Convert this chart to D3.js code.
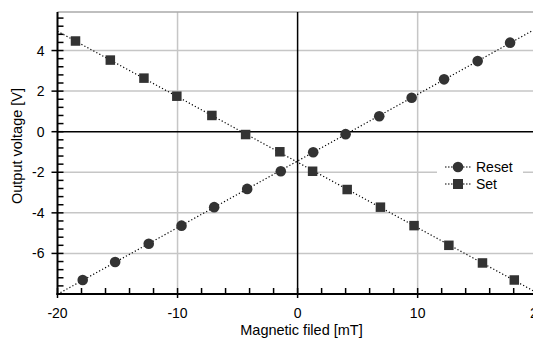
<!DOCTYPE html>
<html>
<head>
<meta charset="utf-8">
<script src="https://cdn.jsdelivr.net/npm/d3@7"></script>
<style>
  body { margin: 0; background: #fff; }
  text { font-family: "Liberation Sans", Arial, sans-serif; fill: #000; }
</style>
</head>
<body>
<script>
// data
const resetField = [-17.9, -15.2, -12.4, -9.67, -6.95, -4.2, -1.4, 1.3, 4.0, 6.8, 9.5, 12.2, 15.0, 17.7];
const resetVolt  = [-7.31, -6.42, -5.52, -4.63, -3.72, -2.82, -1.95, -1.01, -0.12, 0.76, 1.67, 2.58, 3.48, 4.39];
const setField = [-18.5, -15.6, -12.8, -10.06, -7.14, -4.33, -1.48, 1.25, 4.13, 6.9, 9.7, 12.6, 15.4, 18.05];
const setVolt  = [4.47, 3.53, 2.64, 1.75, 0.80, -0.14, -0.99, -1.95, -2.85, -3.72, -4.63, -5.6, -6.47, -7.31];
const xTicks = [-20, -10, 0, 10, 20];
const yTicks = [-6, -4, -2, 0, 2, 4];
const seriesNames = ["Reset", "Set"];

(function() {
  const width = 533, height = 338;
  const svg = d3.select('body').append('svg')
    .attr('width', width)
    .attr('height', height);

  const xScale = d3.scaleLinear().domain([-20, 20]).range([57.5, 537.7]);
  const yScale = d3.scaleLinear().domain([-8, 5.9]).range([294, 12]);
  const left = xScale(-20), top = yScale(5.9), bottom = yScale(-8);

  svg.append('clipPath').attr('id', 'plot')
    .append('rect')
      .attr('x', left).attr('y', top)
      .attr('width', xScale(20) - left).attr('height', bottom - top);

  // grid
  const grid = svg.append('g');
  grid.selectAll('.vg')
    .data(xTicks.filter(d => d !== 0 && d !== -20))
    .enter().append('line')
      .attr('x1', d => xScale(d)).attr('x2', d => xScale(d))
      .attr('y1', top).attr('y2', bottom)
      .attr('stroke', '#c6c6c6').attr('stroke-width', 1.5);
  grid.selectAll('.hg')
    .data(yTicks.filter(d => d !== 0))
    .enter().append('line')
      .attr('x1', left).attr('x2', width)
      .attr('y1', d => yScale(d)).attr('y2', d => yScale(d))
      .attr('stroke', '#c6c6c6').attr('stroke-width', 1.5);
  // top frame
  grid.append('line')
    .attr('x1', left).attr('x2', width)
    .attr('y1', top).attr('y2', top)
    .attr('stroke', '#aaa').attr('stroke-width', 1.5);

  // zero lines
  svg.append('line')
    .attr('x1', xScale(0)).attr('x2', xScale(0))
    .attr('y1', top).attr('y2', bottom)
    .attr('stroke', '#000').attr('stroke-width', 1.5);
  svg.append('line')
    .attr('x1', left).attr('x2', width)
    .attr('y1', yScale(0)).attr('y2', yScale(0))
    .attr('stroke', '#000').attr('stroke-width', 1.5);

  // legend box (drawn before lines, covers grid)
  const legend = svg.append('g').attr('transform', 'translate(437, 157)');
  legend.append('rect')
    .attr('x', 0).attr('y', 0).attr('width', 86).attr('height', 36)
    .attr('fill', '#fff');

  // least squares fit lines
  function fit(xs, ys) {
    const mx = d3.mean(xs), my = d3.mean(ys);
    const num = d3.sum(xs, (x, i) => (x - mx) * (ys[i] - my));
    const den = d3.sum(xs, x => (x - mx) * (x - mx));
    const slope = num / den;
    return { slope: slope, intercept: my - slope * mx };
  }
  const fits = [fit(resetField, resetVolt), fit(setField, setVolt)];
  const line = d3.line().x(d => xScale(d[0])).y(d => yScale(d[1]));
  svg.append('g').attr('clip-path', 'url(#plot)')
    .selectAll('path')
    .data(fits)
    .enter().append('path')
      .attr('d', f => line(xScale.domain().map(x => [x, f.slope * x + f.intercept])))
      .attr('fill', 'none')
      .attr('stroke', '#000')
      .attr('stroke-width', 1.2)
      .attr('stroke-dasharray', '1.2,2.2');

  // markers
  const color = '#333';
  svg.selectAll('.dot')
    .data(resetField.map((x, i) => [x, resetVolt[i]]))
    .enter().append('circle')
      .attr('cx', d => xScale(d[0]))
      .attr('cy', d => yScale(d[1]))
      .attr('r', 5.3)
      .attr('fill', color);
  const sq = 9.5;
  svg.selectAll('.sq')
    .data(setField.map((x, i) => [x, setVolt[i]]))
    .enter().append('rect')
      .attr('x', d => xScale(d[0]) - sq / 2)
      .attr('y', d => yScale(d[1]) - sq / 2)
      .attr('width', sq).attr('height', sq)
      .attr('fill', color);

  // axes lines
  svg.append('line')
    .attr('x1', left).attr('x2', left)
    .attr('y1', top).attr('y2', bottom + 1)
    .attr('stroke', '#000').attr('stroke-width', 2);
  svg.append('line')
    .attr('x1', left - 1).attr('x2', width)
    .attr('y1', bottom).attr('y2', bottom)
    .attr('stroke', '#000').attr('stroke-width', 2);

  // y ticks: major cross the axis, minor inside
  const yMinor = d3.range(-8, 5.9, 0.4).filter(v => Math.abs(v / 2 - Math.round(v / 2)) > 0.01);
  svg.selectAll('.ymin')
    .data(yMinor)
    .enter().append('line')
      .attr('x1', left).attr('x2', left + 6)
      .attr('y1', d => yScale(d)).attr('y2', d => yScale(d))
      .attr('stroke', '#000').attr('stroke-width', 1.5);
  svg.selectAll('.ymaj')
    .data(yTicks)
    .enter().append('line')
      .attr('x1', left - 6).attr('x2', left + 6)
      .attr('y1', d => yScale(d)).attr('y2', d => yScale(d))
      .attr('stroke', '#000').attr('stroke-width', 1.5);
  svg.selectAll('.ylab')
    .data(yTicks)
    .enter().append('text')
      .attr('x', 44.5)
      .attr('y', d => yScale(d) + 5)
      .attr('text-anchor', 'end')
      .style('font-size', '14px')
      .text(d => d);

  // x ticks
  const xMinor = d3.range(-18, 20, 2).filter(v => v % 10 !== 0);
  svg.selectAll('.xmin')
    .data(xMinor)
    .enter().append('line')
      .attr('x1', d => xScale(d)).attr('x2', d => xScale(d))
      .attr('y1', bottom).attr('y2', bottom - 6)
      .attr('stroke', '#000').attr('stroke-width', 1.5);
  svg.selectAll('.xmaj')
    .data(xTicks)
    .enter().append('line')
      .attr('x1', d => xScale(d)).attr('x2', d => xScale(d))
      .attr('y1', bottom + 4).attr('y2', bottom - 6)
      .attr('stroke', '#000').attr('stroke-width', 1.5);
  svg.selectAll('.xlab')
    .data(xTicks)
    .enter().append('text')
      .attr('x', d => xScale(d))
      .attr('y', 318)
      .attr('text-anchor', 'middle')
      .style('font-size', '14px')
      .text(d => d);

  // axis titles
  svg.append('text')
    .attr('x', 301.5).attr('y', 335)
    .attr('text-anchor', 'middle')
    .style('font-size', '14.5px')
    .text('Magnetic filed [mT]');
  svg.append('text')
    .attr('transform', 'translate(22,146) rotate(-90)')
    .attr('text-anchor', 'middle')
    .style('font-size', '14.5px')
    .text('Output voltage [V]');

  // legend entries
  seriesNames.forEach((name, i) => {
    const g = legend.append('g').attr('transform', 'translate(0,' + (10 + i * 17) + ')');
    g.append('line')
      .attr('x1', 8).attr('x2', 34)
      .attr('stroke', '#000').attr('stroke-width', 1.2)
      .attr('stroke-dasharray', '1.5,1.5');
    if (i === 0) {
      g.append('circle').attr('cx', 21).attr('cy', 0).attr('r', 5.3).attr('fill', color);
    } else {
      g.append('rect').attr('x', 16).attr('y', -5).attr('width', 10).attr('height', 10).attr('fill', color);
    }
    g.append('text')
      .attr('x', 39).attr('y', 5)
      .style('font-size', '14px')
      .text(name);
  });
})();
</script>
</body>
</html>
